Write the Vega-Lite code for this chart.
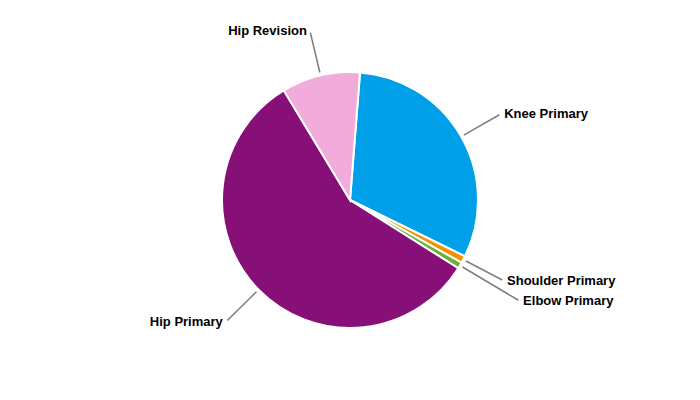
{
  "$schema": "https://vega.github.io/schema/vega-lite/v6.json",
  "width": 700,
  "height": 400,
  "autosize": {"type": "fit", "contains": "padding"},
  "padding": 0,
  "background": "white",
  "view": {"stroke": null},
  "data": {
    "values": [
      {"category": "Knee Primary", "share": 31.0, "seq": 1},
      {"category": "Shoulder Primary", "share": 0.9, "seq": 2},
      {"category": "Elbow Primary", "share": 0.8, "seq": 3},
      {"category": "Hip Primary", "share": 57.4, "seq": 4},
      {"category": "Hip Revision", "share": 9.9, "seq": 5}
    ]
  },
  "resolve": {"scale": {"theta": "independent"}},
  "layer": [
    {
      "mark": {"type": "arc", "stroke": "white", "strokeWidth": 2},
      "encoding": {
        "theta": {"field": "share", "type": "quantitative", "stack": true, "scale": {"range": [0.07854, 6.36173]}},
        "order": {"field": "seq", "type": "quantitative"},
        "color": {
          "field": "category",
          "type": "nominal",
          "scale": {
            "domain": ["Knee Primary", "Shoulder Primary", "Elbow Primary", "Hip Primary", "Hip Revision"],
            "range": ["#00A0E9", "#F39200", "#6AB23E", "#870F78", "#F2ACDB"]
          },
          "legend": null
        },
        "radius": {"value": 128}
      }
    },
    {
      "mark": {"type": "arc", "padAngle": 3.1416, "filled": false, "stroke": "#808080", "strokeWidth": 1.6},
      "encoding": {
        "theta": {"field": "share", "type": "quantitative", "stack": true, "scale": {"range": [0.07854, 6.36173]}},
        "order": {"field": "seq", "type": "quantitative"},
        "radius": {"value": 172},
        "radius2": {"value": 131},
        "opacity": {"condition": {"test": "datum.category === 'Knee Primary' || datum.category === 'Shoulder Primary' || datum.category === 'Hip Revision'", "value": 1}, "value": 0}
      }
    },
    {
      "mark": {"type": "arc", "padAngle": 3.1416, "filled": false, "stroke": "#808080", "strokeWidth": 1.6},
      "encoding": {
        "theta": {"field": "share", "type": "quantitative", "stack": true, "scale": {"range": [0.07854, 6.36173]}},
        "order": {"field": "seq", "type": "quantitative"},
        "radius": {"value": 196},
        "radius2": {"value": 131},
        "opacity": {"condition": {"test": "datum.category === 'Elbow Primary'", "value": 1}, "value": 0}
      }
    },
    {
      "mark": {"type": "arc", "padAngle": 3.1416, "filled": false, "stroke": "#808080", "strokeWidth": 1.6},
      "encoding": {
        "theta": {"field": "share", "type": "quantitative", "stack": true, "scale": {"range": [2.0075, 5.1491]}},
        "order": {"field": "seq", "type": "quantitative"},
        "radius": {"value": 172},
        "radius2": {"value": 131},
        "opacity": {"condition": {"test": "datum.category === 'Hip Primary'", "value": 1}, "value": 0}
      }
    },
    {
      "mark": {"type": "text", "align": "left", "baseline": "middle", "font": "Liberation Sans", "fontWeight": "bold", "fontSize": 13, "dx": 3, "color": "black"},
      "encoding": {
        "theta": {"field": "share", "type": "quantitative", "stack": true, "scale": {"range": [0.07854, 6.36173]}},
        "order": {"field": "seq", "type": "quantitative"},
        "radius": {"value": 174},
        "text": {"condition": {"test": "datum.category === 'Knee Primary' || datum.category === 'Shoulder Primary'", "field": "category"}, "value": ""}
      }
    },
    {
      "mark": {"type": "text", "align": "left", "baseline": "middle", "font": "Liberation Sans", "fontWeight": "bold", "fontSize": 13, "dx": 3, "color": "black"},
      "encoding": {
        "theta": {"field": "share", "type": "quantitative", "stack": true, "scale": {"range": [0.07854, 6.36173]}},
        "order": {"field": "seq", "type": "quantitative"},
        "radius": {"value": 198},
        "text": {"condition": {"test": "datum.category === 'Elbow Primary'", "field": "category"}, "value": ""}
      }
    },
    {
      "mark": {"type": "text", "align": "right", "baseline": "middle", "font": "Liberation Sans", "fontWeight": "bold", "fontSize": 13, "dx": -3, "color": "black"},
      "encoding": {
        "theta": {"field": "share", "type": "quantitative", "stack": true, "scale": {"range": [0.07854, 6.36173]}},
        "order": {"field": "seq", "type": "quantitative"},
        "radius": {"value": 174},
        "text": {"condition": {"test": "datum.category === 'Hip Primary' || datum.category === 'Hip Revision'", "field": "category"}, "value": ""}
      }
    }
  ]
}
